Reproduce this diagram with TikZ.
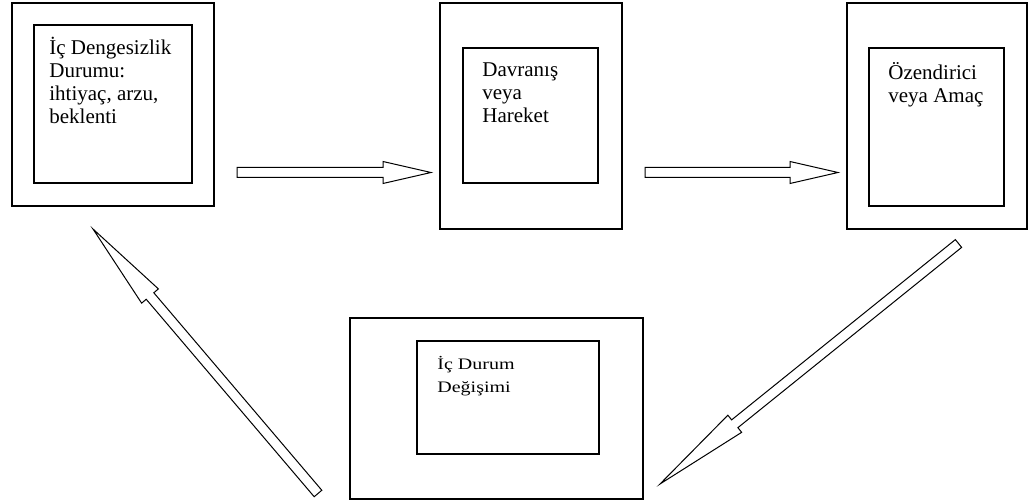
\documentclass[tikz,border=0pt]{standalone}
\usepackage{fontspec}
\setmainfont{Liberation Serif}
\usepackage{graphicx}
\usetikzlibrary{positioning, calc}

\newcommand{\sqz}[1]{\scalebox{1}[0.8]{#1}}
\newcommand{\blockarrow}[3]{%
  \coordinate (hb) at ($(#2)!#3!(#1)$);
  \draw[arr line] ($(#1)!5pt!90:(#2)$) -- ($(hb)!5pt!90:(#2)$) -- ($(hb)!11pt!90:(#2)$)
    -- (#2) -- ($(hb)!11pt!-90:(#2)$) -- ($(hb)!5pt!-90:(#2)$) -- ($(#1)!5pt!-90:(#2)$) -- cycle;
}

\begin{document}
\begin{tikzpicture}[x=1pt, y=-1pt, thick,
  box node/.style={rectangle, draw, line width=1.5pt, inner sep=0pt, outer sep=0pt},
  txt node/.style={inner sep=0pt, align=left, font=\fontsize{21}{23}\selectfont},
  arr line/.style={line width=1pt, line join=miter}]
  \useasboundingbox (0,0) rectangle (1034,502);
  \node[box node, minimum width=202pt, minimum height=203pt] (o1) at (113,104.5) {};
  \node[box node, minimum width=158pt, minimum height=158pt] (i1) at (113,104) {};
  \node[box node, minimum width=182pt, minimum height=226pt] (o2) at (531,116) {};
  \node[box node, minimum width=135pt, minimum height=135pt] (i2) at (530.5,115.5) {};
  \node[box node, minimum width=180pt, minimum height=226pt] (o3) at (937,116) {};
  \node[box node, minimum width=135pt, minimum height=158pt] (i3) at (936.5,127) {};
  \node[box node, minimum width=293pt, minimum height=181pt] (o4) at (496.5,408.5) {};
  \node[box node, minimum width=182pt, minimum height=113pt] (i4) at (508,397.5) {};
  % texts sit on the baseline of their last line
  \node[txt node, below right=99pt and 15pt of i1.north west, anchor=base west] (t1) {İç Dengesizlik\\Durumu:\\ihtiyaç, arzu,\\beklenti};
  \node[txt node, below right=75pt and 19pt of i2.north west, anchor=base west] (t2) {Davranış\\veya\\Hareket};
  \node[txt node, below right=55pt and 19pt of i3.north west, anchor=base west] (t3) {Özendirici\\veya Amaç};
  \node[txt node, font=\fontsize{20}{23}\selectfont, below right=52pt and 20pt of i4.north west, anchor=base west] (t4) {\sqz{İç Durum}\\\sqz{Değişimi}};
  % block arrows
  \coordinate (a1) at (237,172.5);
  \coordinate (b1) at (431,172.5);
  \coordinate (a2) at (645,172.5);
  \coordinate (b2) at (838,172.5);
  \coordinate (a3) at (958.5,243.5);
  \coordinate (b3) at (660,484);
  \coordinate (a4) at (318,493.5);
  \coordinate (b4) at (93,229);
  \blockarrow{a1}{b1}{48pt}
  \blockarrow{a2}{b2}{48pt}
  \blockarrow{a3}{b3}{96pt}
  \blockarrow{a4}{b4}{88pt}
\end{tikzpicture}
\end{document}
